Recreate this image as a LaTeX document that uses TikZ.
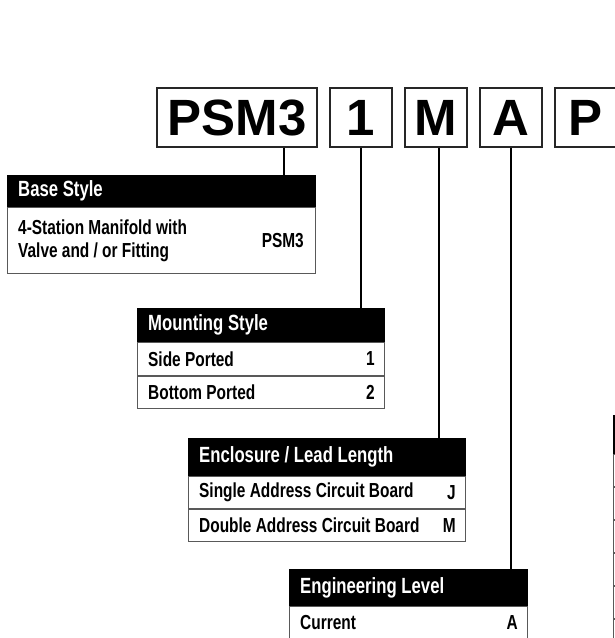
\documentclass[tikz,border=0pt]{standalone}
\usepackage{fontspec}
\setmainfont{Liberation Sans}
\newfontfamily\condf[FakeStretch=0.76]{Liberation Sans}
\tikzset{
  codebox/.style={draw=black!85, line width=1.6pt, minimum height=59pt, inner sep=0pt,
    font=\fontsize{51}{51}\selectfont\bfseries},
  hdr/.style={fill=black, draw=black, line width=1pt, inner sep=0pt, anchor=north west},
  rowb/.style={draw=black!65, line width=1pt, fill=white, inner sep=0pt, anchor=north west},
  htxt/.style={text=white, font=\condf\bfseries\fontsize{22}{22}\selectfont, anchor=west, inner sep=0pt},
  rtxt/.style={font=\condf\bfseries\fontsize{20.3}{23}\selectfont, anchor=west, inner sep=0pt, align=left},
  ctxt/.style={font=\condf\bfseries\fontsize{20.3}{23}\selectfont, anchor=east, inner sep=0pt},
  conn/.style={line width=2pt, black}
}
\begin{document}
\begin{tikzpicture}[x=1pt, y=-1pt]
\useasboundingbox (0,0) rectangle (615,638);
% top code boxes
\node[codebox, minimum width=160pt] (psm) at (237,117.5) {PSM3};
\node[codebox, minimum width=62pt] (b1) at (361,117.5) {1};
\node[codebox, minimum width=62pt] (bM) at (436,117.5) {M};
\node[codebox, minimum width=62pt] (bA) at (511,117.5) {A};
\node[codebox, minimum width=62pt] (bP) at (586,117.5) {P};

% Base Style
\node[hdr, minimum width=308pt, minimum height=31pt] (base) at (7,175) {};
\node[htxt] (baset) at ([xshift=11pt]base.west) {Base Style};
\node[rowb, minimum width=308pt, minimum height=66pt] (base1) at (base.south west) {};
\node[rtxt] (base1t) at ([xshift=11pt]base1.west) {4-Station Manifold with\\Valve and / or Fitting};
\node[ctxt] (base1c) at ([xshift=-12pt]base1.east) {PSM3};

% Mounting Style
\node[hdr, minimum width=247pt, minimum height=33pt] (mount) at (137,308) {};
\node[htxt] (mountt) at ([xshift=11pt]mount.west) {Mounting Style};
\node[rowb, minimum width=247pt, minimum height=32.5pt] (mount1) at (mount.south west) {};
\node[rtxt] (mount1t) at ([xshift=11pt]mount1.west) {Side Ported};
\node[ctxt] (mount1c) at ([xshift=-10pt]mount1.east) {1};
\node[rowb, minimum width=247pt, minimum height=32.5pt] (mount2) at (mount1.south west) {};
\node[rtxt] (mount2t) at ([xshift=11pt]mount2.west) {Bottom Ported};
\node[ctxt] (mount2c) at ([xshift=-10pt]mount2.east) {2};

% Enclosure
\node[hdr, minimum width=277pt, minimum height=37pt] (encl) at (188,438) {};
\node[htxt] (enclt) at ([xshift=11pt]encl.west) {Enclosure / Lead Length};
\node[rowb, minimum width=277pt, minimum height=32pt] (encl1) at (encl.south west) {};
\node[rtxt] (encl1t) at ([xshift=11pt]encl1.west) {Single Address Circuit Board};
\node[ctxt] (encl1c) at ([xshift=-10pt]encl1.east) {J};
\node[rowb, minimum width=277pt, minimum height=32pt] (encl2) at (encl1.south west) {};
\node[rtxt] (encl2t) at ([xshift=11pt]encl2.west) {Double Address Circuit Board};
\node[ctxt] (encl2c) at ([xshift=-10pt]encl2.east) {M};

% Engineering Level
\node[hdr, minimum width=238pt, minimum height=36pt] (eng) at (289,569) {};
\node[htxt] (engt) at ([xshift=11pt]eng.west) {Engineering Level};
\node[rowb, minimum width=238pt, minimum height=40pt] (eng1) at (eng.south west) {};
\node[rtxt] (eng1t) at ([xshift=11pt,yshift=4pt]eng1.west) {Current};
\node[ctxt] (eng1c) at ([xshift=-10pt,yshift=4pt]eng1.east) {A};

% partially visible table at right edge
\node[hdr, minimum width=40pt, minimum height=38pt] (opt) at (613,415) {};
\node[rowb, minimum width=40pt, minimum height=32pt] (opt1) at (opt.south west) {};
\node[rowb, minimum width=40pt, minimum height=32pt] (opt2) at (opt1.south west) {};
\node[rowb, minimum width=40pt, minimum height=32pt] (opt3) at (opt2.south west) {};
\node[rowb, minimum width=40pt, minimum height=32pt] (opt4) at (opt3.south west) {};
\node[rowb, minimum width=40pt, minimum height=32pt] (opt5) at (opt4.south west) {};
\node[rowb, minimum width=40pt, minimum height=32pt] (opt6) at (opt5.south west) {};

% connectors
\coordinate (cpsm) at (284,0);
\draw[conn] (psm.south -| cpsm) -- (base.north -| cpsm);
\draw[conn] (b1.south) -- (b1.south |- mount.north);
\coordinate (cM) at (439,0);
\draw[conn] (bM.south -| cM) -- (encl.north -| cM);
\draw[conn] (bA.south) -- (bA.south |- eng.north);
\end{tikzpicture}
\end{document}
